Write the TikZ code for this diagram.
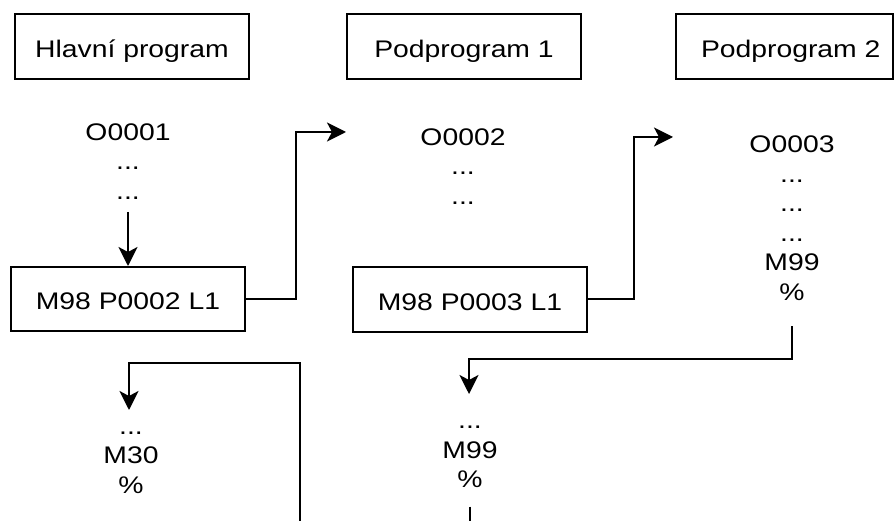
\documentclass[tikz,border=0pt]{standalone}
\usepackage{fontspec}
\setmainfont{Liberation Sans}[FakeStretch=1.18]
\usetikzlibrary{calc, arrows.meta}

\begin{document}
\begin{tikzpicture}[x=1pt, y=-1pt, line width=2pt,
    >={Stealth[length=19pt, width=19pt, inset=5pt]}]
    \tikzstyle{every node} = [font=\fontsize{24}{29.5}\selectfont]
    \tikzstyle{program} = [rectangle, draw, minimum width=234pt, minimum height=65pt, text height=21.5pt, text depth=0pt, inner sep=0pt]
    \tikzstyle{call} = [rectangle, draw, minimum width=234pt, minimum height=64pt, text height=21.5pt, text depth=0pt, inner sep=0pt]
    \tikzstyle{listing} = [align=center, inner sep=0pt, anchor=north]

    \useasboundingbox (0, 0) rectangle (894, 521);

    % Programs ------------------------------------------
    \node (main) at (132, 46.5) [program] {Hlavní program};
    \node (sub1) at (464, 46.5) [program] {Podprogram 1};
    \node (sub2) at (784.5, 46.5) [program, minimum width=217pt] {\makebox[167pt][l]{Podprogram 2}};

    % Listings ------------------------------------------
    \node (main_top) at (128, 122.5) [listing] {O0001\\...\\...};
    \node (call1) at (128, 299) [call] {M98 P0002 L1};
    \node (main_end) at (131, 494.5) [listing, anchor=south] {...\\M30\\\%};

    \node (sub1_top) at (463, 127.5) [listing] {O0002\\...\\...};
    \node (call2) at (470, 299.5) [call] {M98 P0003 L1};
    \node (sub1_end) at (470, 489) [listing, anchor=south] {...\\M99\\\%};

    \node (sub2_list) at (792, 135) [listing] {O0003\\...\\...\\...\\M99\\\%};
    % ---------------------------------------------------

    % Calls and returns ---------------------------------
    \coordinate (sub1_entry) at (346, 132);
    \coordinate (sub2_entry) at (673, 137);
    \coordinate (sub1_return) at (469, 394);
    \coordinate (main_return) at (129, 410);
    \coordinate (main_back) at (300, 524);

    \draw [->] ($(main_top.south) + (0, 11.5)$) -- (call1.north);
    \draw [->] (call1.east) -- ++(50, 0) |- (sub1_entry);
    \draw [->] (call2.east) -- ++(46, 0) |- (sub2_entry);
    \draw [->] ($(sub2_list.south) + (0, 25)$) -- ++(0, 33) -| (sub1_return);
    \draw ($(sub1_end.south) + (0, 17.5)$) -- ++(0, 18);
    \draw [->] (main_back) -- ++(0, -161) -| (main_return);
\end{tikzpicture}
\end{document}
